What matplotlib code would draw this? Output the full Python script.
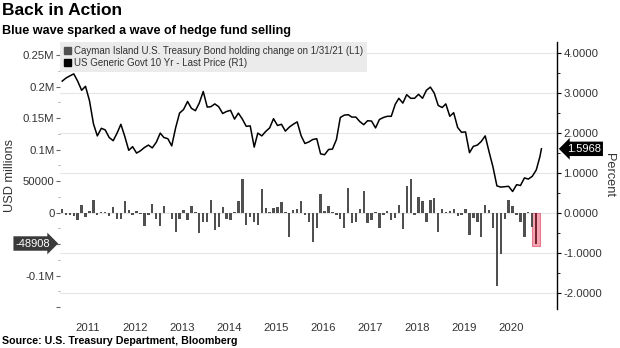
import matplotlib
matplotlib.use("Agg")
import matplotlib.pyplot as plt
import matplotlib.dates as mdates
from matplotlib.patches import Patch
from matplotlib.ticker import FixedLocator, MultipleLocator, FuncFormatter
import pandas as pd

plt.rcParams['font.family'] = ['Liberation Sans', 'DejaVu Sans']

# monthly change in Cayman Island holdings of US Treasury bonds (USD millions)
bar_dates = pd.date_range('2010-12-31', periods=122, freq='ME')
holding_change = [
    6, -3, -4, -6, -12, 13, -7, 3, 20, -4, 1, 0.5, -6, 9, -10, -10, 19, 4, -3, 3,
    -2, -21, -3, 14, -10, -21, 11, -0.5, -10, -30, -10, 4,
    -12, 10, 0.5, -33, -15, -15, 20, -27, -23, 9, -10, -11, 0.5, 19, 53, -19, -7, -15,
    -20, 37, 8, 1, 8, 9, 17, 0.5, -39, 5, 6, 18, -4, -14, -47,
    -24, 29, 3, 10, 1, -4, -10, -24, 39, -17, -15, 6, 35, -17, -12, 0.5, -24, -4, 3,
    -11, -8, 13, -26, 42, 54, -3, 25, 18, -15, 20, 24, -31, 6,
    1, 2, 6, -5, -3, 6, -35, -8, -15, -39, 13, 5, -24, -117, -65, -10, 20, 10, -4,
    -15, -39, 0.5, -23, -48.908,
]
holding_change = [v * 1000 for v in holding_change]

# US generic govt 10 yr yield, month end (percent)
line_dates = list(pd.date_range('2010-12-31', periods=123, freq='ME')) + [pd.Timestamp('2021-03-12')]
yield_10y = [
    3.29,
    3.37, 3.42, 3.47, 3.29, 3.06, 3.16, 2.80, 2.22, 1.92, 2.11, 2.07, 1.88,
    1.80, 1.98, 2.21, 1.91, 1.56, 1.65, 1.49, 1.55, 1.63, 1.69, 1.62, 1.76,
    1.99, 1.88, 1.85, 1.67, 2.13, 2.49, 2.58, 2.78, 2.61, 2.55, 2.74, 3.03,
    2.64, 2.65, 2.72, 2.65, 2.48, 2.53, 2.56, 2.34, 2.49, 2.34, 2.16, 2.17,
    1.64, 1.99, 1.92, 2.03, 2.12, 2.35, 2.18, 2.21, 2.04, 2.14, 2.21, 2.27,
    1.92, 1.73, 1.77, 1.83, 1.85, 1.47, 1.45, 1.58, 1.59, 1.83, 2.38, 2.44,
    2.45, 2.39, 2.39, 2.28, 2.20, 2.30, 2.29, 2.12, 2.33, 2.38, 2.41, 2.41,
    2.71, 2.86, 2.74, 2.95, 2.86, 2.86, 2.96, 2.86, 3.06, 3.14, 2.99, 2.68,
    2.63, 2.72, 2.41, 2.50, 2.13, 2.01, 2.02, 1.50, 1.66, 1.69, 1.78, 1.92,
    1.51, 1.15, 0.67, 0.64, 0.65, 0.66, 0.53, 0.70, 0.68, 0.87, 0.84, 0.91,
    1.07, 1.40, 1.5968,
]

left_ticks = [250000, 200000, 150000, 100000, 50000, 0, -50000, -100000, -150000]
left_labels = ['0.25M', '0.2M', '0.15M', '0.1M', '50000', '0', '', '-0.1M', '']
right_ticks = [4, 3, 2, 1, 0, -1, -2]

legend_labels = ['Cayman Island U.S. Treasury Bond holding change on 1/31/21 (L1)',
                 'US Generic Govt 10 Yr - Last Price (R1)']

bar_color = '#505050'
txt_color = '#333333'

fig = plt.figure(figsize=(6.2, 3.48), dpi=100)
ax = fig.add_axes([0.0968, 0.1121, 0.8016, 0.7672])
ax2 = ax.twinx()
# bars sit on top of the line axes so grid stays behind
ax.set_zorder(ax2.get_zorder() + 1)
ax.patch.set_visible(False)

# highlight box around the latest bar
ax.bar(bar_dates[-1], holding_change[-1] * 1.08, width=65, color='#f4a3b1',
       edgecolor='#e57a8e', linewidth=0.8, zorder=1)
colors = [bar_color] * (len(holding_change) - 1) + ['#7a2330']
ax.bar(bar_dates, holding_change, width=18, color=colors, zorder=2)

ax2.plot(line_dates, yield_10y, color='black', lw=1.1)

ax.set_xlim(pd.Timestamp('2010-12-14'), pd.Timestamp('2021-07-11'))
ax.set_ylim(-152857, 270952)
ax2.set_ylim(-2.4075, 4.2675)

# x axis: year labels mid-year, gridlines every other January
ax.xaxis.set_major_locator(mdates.YearLocator(1, month=7, day=20))
ax.xaxis.set_major_formatter(mdates.DateFormatter('%Y'))
ax.xaxis.set_minor_locator(mdates.YearLocator(2, month=1, day=1))
ax.tick_params(axis='x', which='both', length=0, pad=10, labelsize=8.2, labelcolor=txt_color)
ax2.grid(True, which='minor', axis='x', color='#e6e6e6', lw=0.8)
ax2.grid(True, which='major', axis='y', color='#e6e6e6', lw=0.8)

ax.yaxis.set_major_locator(FixedLocator(left_ticks))
ax.set_yticklabels(left_labels)
ax.yaxis.set_minor_locator(MultipleLocator(25000))
ax.tick_params(axis='y', which='major', length=3, color='#666666', labelsize=8.2,
               labelcolor=txt_color, pad=1)
ax.tick_params(axis='y', which='minor', length=1.5, color='#999999')

ax2.yaxis.set_major_locator(FixedLocator(right_ticks))
ax2.yaxis.set_major_formatter(FuncFormatter(lambda v, p: f'{v:.4f}'))
ax2.yaxis.set_minor_locator(MultipleLocator(0.5))
ax2.tick_params(axis='y', which='major', length=3, color='black', labelsize=8.2,
                labelcolor=txt_color, pad=1.5)
ax2.tick_params(axis='y', which='minor', length=2, color='black')

for a in (ax, ax2):
    for s in ('top', 'bottom', 'left'):
        a.spines[s].set_visible(False)
ax.spines['right'].set_visible(False)
ax2.spines['right'].set_color('black')
ax2.spines['right'].set_linewidth(1)

ax.set_ylabel('USD millions', fontsize=9.2, color=txt_color, labelpad=5)
ax2.set_ylabel('Percent', fontsize=9.2, color=txt_color, rotation=270, labelpad=9)

# value tags
ax.annotate(f'{holding_change[-1]:.0f}', xy=(0, holding_change[-1]),
            xycoords=('axes fraction', 'data'), xytext=(-7, 0), textcoords='offset points',
            ha='right', va='center', color='white', fontsize=8,
            bbox=dict(boxstyle='rarrow,pad=0.2', fc='#3a3a3a', ec='none'), annotation_clip=False)
ax2.annotate(f'{yield_10y[-1]:.4f}', xy=(1, yield_10y[-1]),
             xycoords=('axes fraction', 'data'), xytext=(7, 0), textcoords='offset points',
             ha='left', va='center', color='white', fontsize=8,
             bbox=dict(boxstyle='larrow,pad=0.2', fc='black', ec='none'), annotation_clip=False)

handles = [Patch(color=bar_color), Patch(color='black')]
leg = ax.legend(handles, legend_labels, loc='upper left', bbox_to_anchor=(0, 1),
                borderaxespad=0, frameon=True, fancybox=False, facecolor='#ebebeb',
                edgecolor='none', framealpha=1, fontsize=7, handlelength=0.7,
                handleheight=0.7, handletextpad=0.3, labelspacing=0.2, borderpad=0.4)
for t in leg.get_texts():
    t.set_color(txt_color)

fig.text(0.003, 0.992, 'Back in Action', fontsize=12.5, weight='bold', va='top', ha='left')
fig.text(0.003, 0.912, 'Blue wave sparked a wave of hedge fund selling', fontsize=9.1,
         weight='bold', va='center', ha='left')
fig.text(0.003, 0.02, 'Source: U.S. Treasury Department, Bloomberg', fontsize=7.7,
         weight='bold', va='center', ha='left')

fig.savefig('out.png', dpi=100)
